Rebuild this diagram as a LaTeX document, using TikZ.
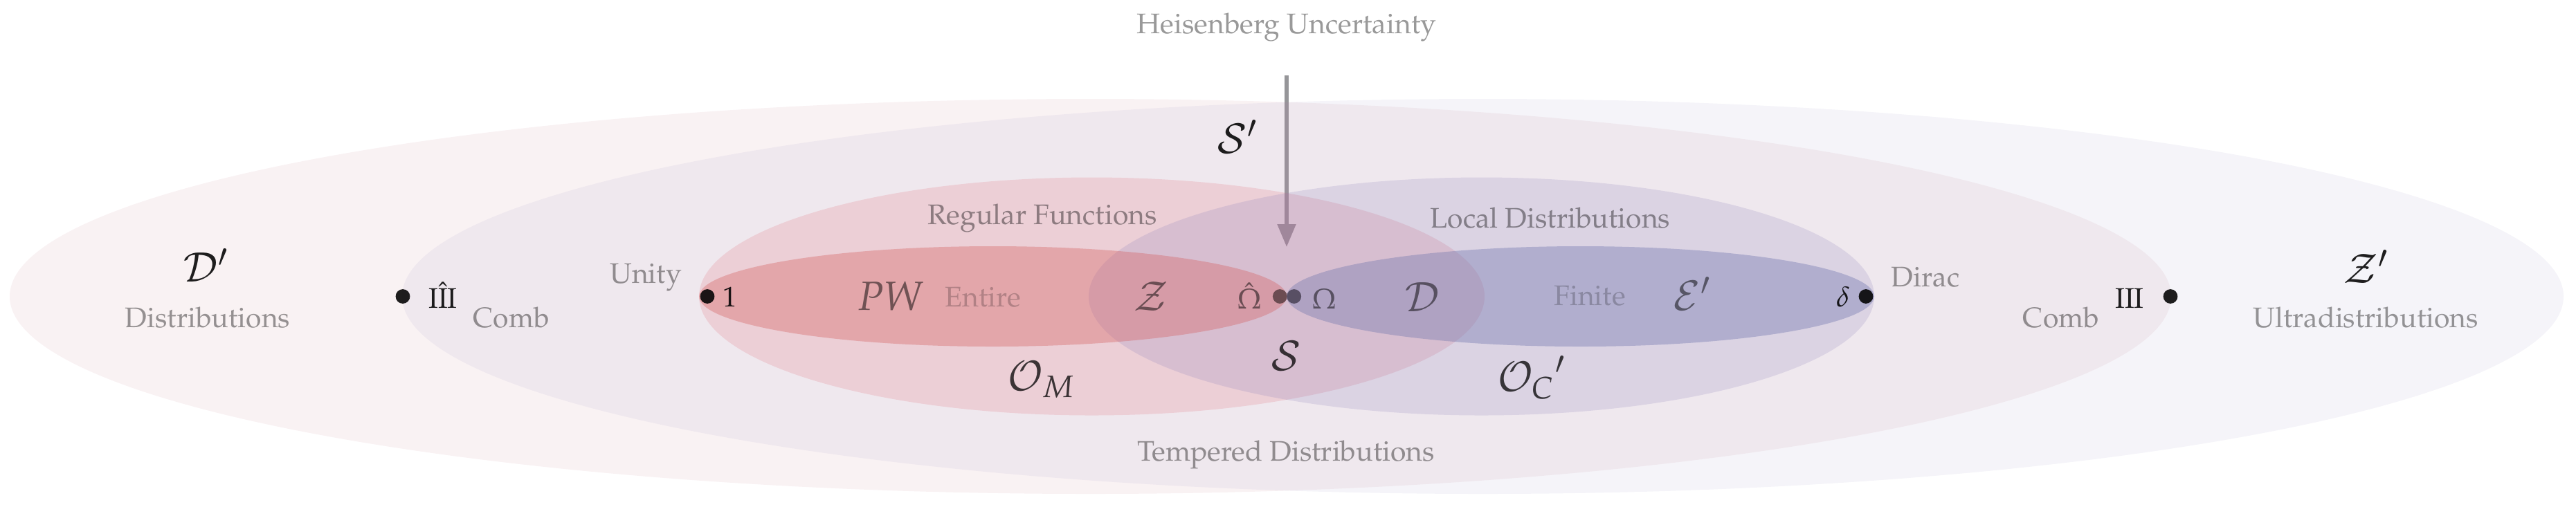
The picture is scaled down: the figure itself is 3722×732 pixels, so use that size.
\documentclass[tikz,border=0pt]{standalone}
\usepackage[T1]{fontenc}
\usepackage{mathpazo}
\usetikzlibrary{arrows.meta}
\definecolor{cDp}{RGB}{195,125,135}
\definecolor{cZp}{RGB}{155,145,195}
\definecolor{cReg}{RGB}{221,106,120}
\definecolor{cLoc}{RGB}{136,126,185}
\definecolor{cEnt}{RGB}{211,90,90}
\definecolor{cFin}{RGB}{100,108,169}
\definecolor{arrowgray}{RGB}{150,150,153}
\definecolor{dotOh}{RGB}{108,76,82}
\definecolor{dotO}{RGB}{88,79,100}
\newcommand\dgsmall{\fontsize{10.23}{12}\selectfont}
\newcommand\dglarge{\fontsize{14.73}{17}\selectfont}
\begin{document}
\begin{tikzpicture}[x=0.25pt,y=-0.25pt,
  outerset/.style={fill opacity=0.1},
  midset/.style={fill opacity=0.2},
  innerset/.style={fill opacity=0.35},
  lbl/.style={font=\dgsmall, text=black, text opacity=0.4, inner sep=0pt, anchor=base},
  inlbl/.style={lbl, text opacity=0.22},
  osym/.style={font=\dglarge, text=black, text opacity=0.88, inner sep=0pt, anchor=base},
  msym/.style={osym, text opacity=0.75},
  isym/.style={osym, text opacity=0.5},
  ptlbl/.style={font=\dgsmall, text=black, text opacity=0.88, inner sep=0pt, anchor=base},
  cptlbl/.style={ptlbl, text opacity=0.5},
  dot/.style={circle, fill=black, fill opacity=0.88, inner sep=0pt, minimum size=5.2pt},
  cdot/.style={circle, inner sep=0pt, minimum size=5.2pt},
  uncarrow/.style={arrowgray, line width=1.33pt, -{Triangle[length=8.25pt,width=6.5pt]}},
]
\useasboundingbox (0,0) rectangle (3722,732);

% arrow (drawn beneath the sets)
\node[lbl] (heis) at (1859,48) {Heisenberg Uncertainty};
\coordinate (hstart) at (1859,109);
\coordinate (htip) at (1859,357);
\draw[uncarrow] (hstart) -- (htip);

% sets
\fill[cDp, outerset] (1575.5,428.5) ellipse [x radius=1561.5, y radius=285.5];
\fill[cZp, outerset] (2142.5,428.5) ellipse [x radius=1561.5, y radius=285.5];
\fill[cReg, midset] (1577.5,428.5) ellipse [x radius=567.5, y radius=172];
\fill[cLoc, midset] (2140.5,428.5) ellipse [x radius=567.5, y radius=172];
\fill[cEnt, innerset] (1434.5,428.5) ellipse [x radius=424.5, y radius=72.5];
\fill[cFin, innerset] (2283.5,428.5) ellipse [x radius=424.5, y radius=72.5];

% labels
\node[osym] (Dp) at (298,407) {$\mathcal{D}'$};
\node[lbl] (distr) at (300,473) {Distributions};
\node[dot] (pIIIh) at (582,428.5) {};
\node[ptlbl] (tIIIh) at (640,445) {$\hat{\mathrm{III}}$};
\node[lbl] (combL) at (739,473) {Comb};
\node[lbl] (unity) at (933,409) {Unity};
\node[dot] (pone) at (1022,428.5) {};
\node[ptlbl] (tone) at (1055,443) {$1$};
\node[isym] (PW) at (1287,448) {$PW$};
\node[inlbl] (entire) at (1420,443) {Entire};
\node[lbl] (regf) at (1506,324) {Regular Functions};
\node[isym] (Z) at (1663,449) {$\mathcal{Z}$};
\node[cptlbl] (tOh) at (1805,446) {$\hat\Omega$};
\node[cdot, fill=dotOh] (pOh) at (1849.3,428.5) {};
\node[cdot, fill=dotO] (pO) at (1869.7,428.5) {};
\node[cptlbl] (tO) at (1913,446) {$\Omega$};
\node[isym] (D) at (2055,450) {$\mathcal{D}$};
\node[lbl] (locd) at (2240,329) {Local Distributions};
\node[inlbl] (finite) at (2297,441) {Finite};
\node[isym] (Ep) at (2445,448) {$\mathcal{E}'$};
\node[ptlbl] (tdelta) at (2663,443) {$\delta$};
\node[dot] (pdelta) at (2696,428.5) {};
\node[lbl] (dirac) at (2782,414) {Dirac};
\node[lbl] (combR) at (2978,473) {Comb};
\node[ptlbl] (tIII) at (3077,445) {$\mathrm{III}$};
\node[dot] (pIII) at (3136,428.5) {};
\node[osym] (Zp) at (3419,409) {$\mathcal{Z}'$};
\node[lbl] (udistr) at (3418,473) {Ultradistributions};
\node[osym] (Sp) at (1788,221) {$\mathcal{S}'$};
\node[msym] (S) at (1858,535) {$\mathcal{S}$};
\node[msym] (OM) at (1505,564) {$\mathcal{O}_M$};
\node[msym] (OC) at (2213,565) {${\mathcal{O}_C}'$};
\node[lbl] (temp) at (1858,666) {Tempered Distributions};
\end{tikzpicture}
\end{document}
